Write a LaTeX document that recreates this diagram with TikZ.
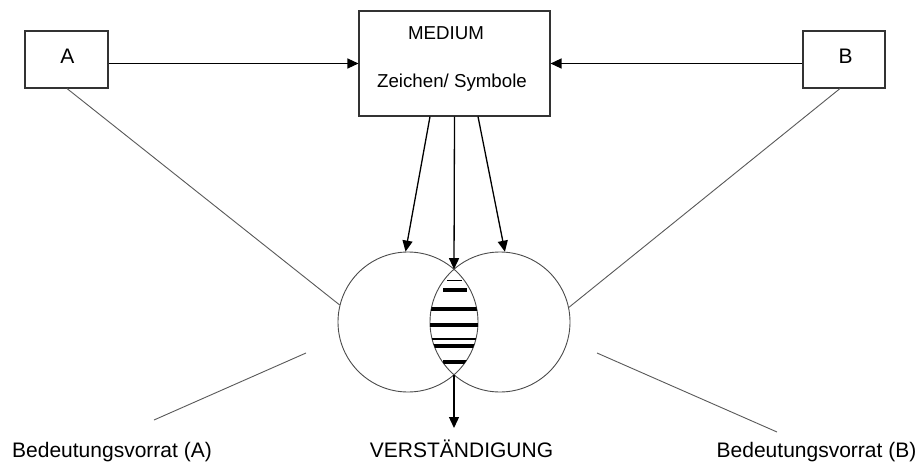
\documentclass[tikz,border=0pt]{standalone}
\usepackage{fontspec}
\setmainfont{Liberation Sans}
\usetikzlibrary{arrows.meta}
\begin{document}
\begin{tikzpicture}[x=1pt,y=-1pt,
  box/.style={draw=black!80,line width=1.1pt,inner sep=0pt},
  circ/.style={draw=black!70,line width=0.9pt,circle,minimum size=140pt,inner sep=0pt},
  arr/.style={line width=1.3pt,-{Triangle[length=11pt,width=10pt]}},
  thin line/.style={draw=black!65,line width=0.9pt},
  lbl/.style={anchor=base,inner sep=0pt,font=\fontsize{21}{24}\selectfont},
  mlbl/.style={anchor=base,inner sep=0pt,font=\fontsize{18.7}{22}\selectfont},
  stripe/.style={line width=#1}]
\useasboundingbox (0,0) rectangle (923,463);
\fill[white] (0,0) rectangle (923,463);
% boxes
\node[box,minimum width=83pt,minimum height=57pt] (A) at (66.5,59.5) {};
\node[box,minimum width=82pt,minimum height=57pt] (B) at (844,59.5) {};
\node[box,minimum width=191pt,minimum height=105pt] (M) at (454.5,63.5) {};
\node[lbl] (tA) at (67.5,63) {A};
\node[lbl] (tB) at (845.5,63) {B};
\node[mlbl] (tM1) at (446,39) {MEDIUM};
\node[mlbl] (tM2) at (452,87) {Zeichen/ Symbole};
% circles
\node[circ] (L) at (408,322) {};
\node[circ] (R) at (500,322) {};
\coordinate (lenstop) at (454,269.2);
\coordinate (lensbot) at (454,374.8);
% stripes in lens
\begin{scope}
\clip (408,322) circle (70);
\clip (500,322) circle (70);
\draw[stripe=1pt] (447,280) -- (462,280);
\draw[stripe=3.5pt] (443,290) -- (467,290);
\draw[stripe=4pt] (420,309) -- (490,309);
\draw[stripe=4pt] (420,325) -- (490,325);
\draw[stripe=1.2pt] (420,339) -- (490,339);
\draw[stripe=4pt] (420,346) -- (490,346);
\draw[stripe=4pt] (443,362) -- (468,362);
\end{scope}
% arrows to medium
\draw[arr] (A.east |- M.west) -- (M.west);
\draw[arr] (B.west |- M.east) -- (M.east);
% arrows from medium
\draw[arr] ([xshift=-24.5pt]M.south) -- (L.92);
\draw[arr] (M.south) -- (lenstop);
\draw[arr] ([xshift=23.5pt]M.south) -- (R.86);
% arrow to result
\coordinate (res) at (454,428);
\draw[arr] (lensbot) -- (res);
% lines from persons to circles
\draw[thin line] ([xshift=0.5pt]A.south) -- (L.166);
\draw[thin line] ([xshift=-4pt]B.south) -- (R.12);
% label pointers
\coordinate (pl1) at (306,353);
\coordinate (pl2) at (154,420);
\coordinate (pr1) at (597,353);
\coordinate (pr2) at (777,432);
\draw[thin line] (pl1) -- (pl2);
\draw[thin line] (pr1) -- (pr2);
% bottom labels
\node[lbl] (bA) at (112,457) {Bedeutungsvorrat (A)};
\node[lbl] (ver) at (461.5,457) {VERSTÄNDIGUNG};
\node[lbl] (bB) at (816.5,457) {Bedeutungsvorrat (B)};
\end{tikzpicture}
\end{document}
